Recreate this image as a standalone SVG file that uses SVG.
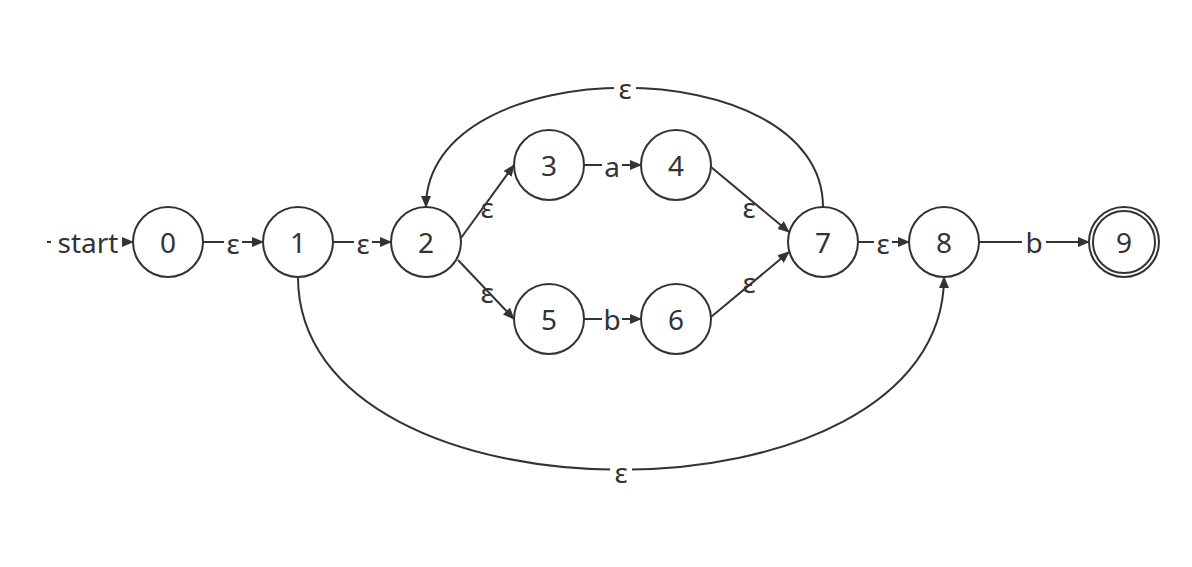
<svg xmlns="http://www.w3.org/2000/svg" width="1192" height="567" viewBox="0 0 1192 567">
<style>
.n{fill:#fff;stroke:#333;stroke-width:2}
.t{font-family:"Noto Sans",sans-serif;font-size:28px;fill:#333;text-anchor:middle;dominant-baseline:central}
.e{fill:none;stroke:#333;stroke-width:2;marker-end:url(#a)}
.lb{fill:#fff}
</style>
<defs><marker id="a" markerWidth="12" markerHeight="10" refX="11" refY="5" orient="auto" markerUnits="userSpaceOnUse"><path d="M0,0 L12,5 L0,10 Z" fill="#333"/></marker></defs>
<rect width="1192" height="567" fill="#fff"/>
<g id="edges">
<path class="e" d="M47,242 H133"/>
<path class="e" d="M203,242 H263"/>
<path class="e" d="M333,242 H391"/>
<path class="e" d="M461,238 L514,165"/>
<path class="e" d="M458,260 L514,319"/>
<path class="e" d="M584,165 H641"/>
<path class="e" d="M584,319 H641"/>
<path class="e" d="M711,167 L789,232"/>
<path class="e" d="M711,317 L789,252"/>
<path class="e" d="M858,242 H909"/>
<path class="e" d="M979,242 H1089"/>
<path class="e" d="M823,207 C823,48 426,48 426,207"/>
<path class="e" d="M298,277 C298,534 944,534 944,277"/>
<rect class="lb" x="51" y="226" width="71" height="32"/>
<text class="t" x="88" y="242">start</text>
<rect class="lb" x="224" y="228" width="18" height="28"/><text class="t" x="233" y="243">ε</text>
<rect class="lb" x="354" y="228" width="18" height="28"/><text class="t" x="363" y="243">ε</text>
<rect class="lb" x="602" y="152" width="20" height="28"/><text class="t" x="612" y="166">a</text>
<rect class="lb" x="602" y="305" width="20" height="28"/><text class="t" x="612" y="319">b</text>
<text class="t" x="487" y="207">ε</text>
<text class="t" x="487" y="292">ε</text>
<text class="t" x="749" y="207">ε</text>
<text class="t" x="749" y="282">ε</text>
<rect class="lb" x="874" y="228" width="18" height="28"/><text class="t" x="883" y="243">ε</text>
<rect class="lb" x="1022" y="226" width="24" height="32"/><text class="t" x="1034" y="242">b</text>
<rect class="lb" x="614" y="74" width="22" height="28"/><text class="t" x="625" y="88">ε</text>
<rect class="lb" x="610" y="458" width="22" height="28"/><text class="t" x="621" y="472">ε</text>
</g>
<g id="n0"><circle class="n" cx="168" cy="242" r="35"/><text class="t" x="168" y="242">0</text></g>
<g id="n1"><circle class="n" cx="298" cy="242" r="35"/><text class="t" x="298" y="242">1</text></g>
<g id="n2"><circle class="n" cx="426" cy="242" r="35"/><text class="t" x="426" y="242">2</text></g>
<g id="n3"><circle class="n" cx="549" cy="165" r="35"/><text class="t" x="549" y="165">3</text></g>
<g id="n4"><circle class="n" cx="676" cy="165" r="35"/><text class="t" x="676" y="165">4</text></g>
<g id="n5"><circle class="n" cx="549" cy="319" r="35"/><text class="t" x="549" y="319">5</text></g>
<g id="n6"><circle class="n" cx="676" cy="319" r="35"/><text class="t" x="676" y="319">6</text></g>
<g id="n7"><circle class="n" cx="823" cy="242" r="35"/><text class="t" x="823" y="242">7</text></g>
<g id="n8"><circle class="n" cx="944" cy="242" r="35"/><text class="t" x="944" y="242">8</text></g>
<g id="n9"><circle class="n" cx="1124" cy="242" r="35"/><circle class="n" cx="1124" cy="242" r="31"/><text class="t" x="1124" y="242">9</text></g>
</svg>
